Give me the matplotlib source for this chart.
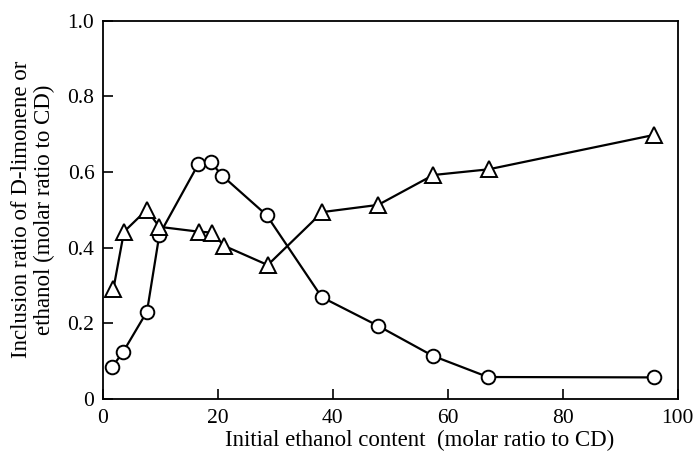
import matplotlib.pyplot as plt

# ethanol content (molar ratio to CD)
x_circ = [1.6, 3.5, 7.7, 9.85, 16.6, 18.8, 20.8, 28.5, 38.1, 47.8, 57.4, 67.0, 95.8]
y_circ = [0.084, 0.123, 0.231, 0.434, 0.620, 0.626, 0.590, 0.486, 0.269, 0.194, 0.114, 0.058, 0.057]

x_tri = [1.85, 3.7, 7.65, 9.85, 16.8, 19.0, 21.1, 28.7, 38.2, 47.9, 57.5, 67.1, 95.9]
y_tri = [0.290, 0.442, 0.500, 0.455, 0.442, 0.440, 0.405, 0.354, 0.494, 0.513, 0.592, 0.607, 0.698]

xticks = [0, 20, 40, 60, 80, 100]
yticks = [0, 0.2, 0.4, 0.6, 0.8, 1.0]
ylabels = ['0', '0.2', '0.4', '0.6', '0.8', '1.0']

plt.rcParams['font.family'] = ['Liberation Serif', 'DejaVu Serif']

fig = plt.figure(figsize=(6.94, 4.57), dpi=100)
ax = fig.add_axes([0.148, 0.127, 0.8285, 0.8278])

ax.plot(x_circ, y_circ, color='black', lw=1.6, marker='o', ms=9.8,
        mfc='white', mec='black', mew=1.4, zorder=3)
ax.plot(x_tri, y_tri, color='black', lw=1.6, marker='^', ms=12,
        mfc='white', mec='black', mew=1.4, zorder=3)

ax.set_xlim(0, 100)
ax.set_ylim(0, 1.0)
ax.set_xticks(xticks)
ax.set_yticks(yticks)
ax.set_yticklabels(ylabels)
ax.tick_params(direction='in', length=7, width=1.2, labelsize=15.5)
ax.tick_params(axis='x', pad=7)
ax.tick_params(axis='y', pad=6)
for s in ax.spines.values():
    s.set_linewidth(1.3)

ax.set_xlabel('Initial ethanol content  (molar ratio to CD)', fontsize=16.5)
ax.xaxis.set_label_coords(0.552, -0.082)
ax.set_ylabel('Inclusion ratio of D-limonene or\nethanol (molar ratio to CD)',
              fontsize=16.5, labelpad=9, linespacing=1.1)

fig.savefig('out.png', dpi=100)
